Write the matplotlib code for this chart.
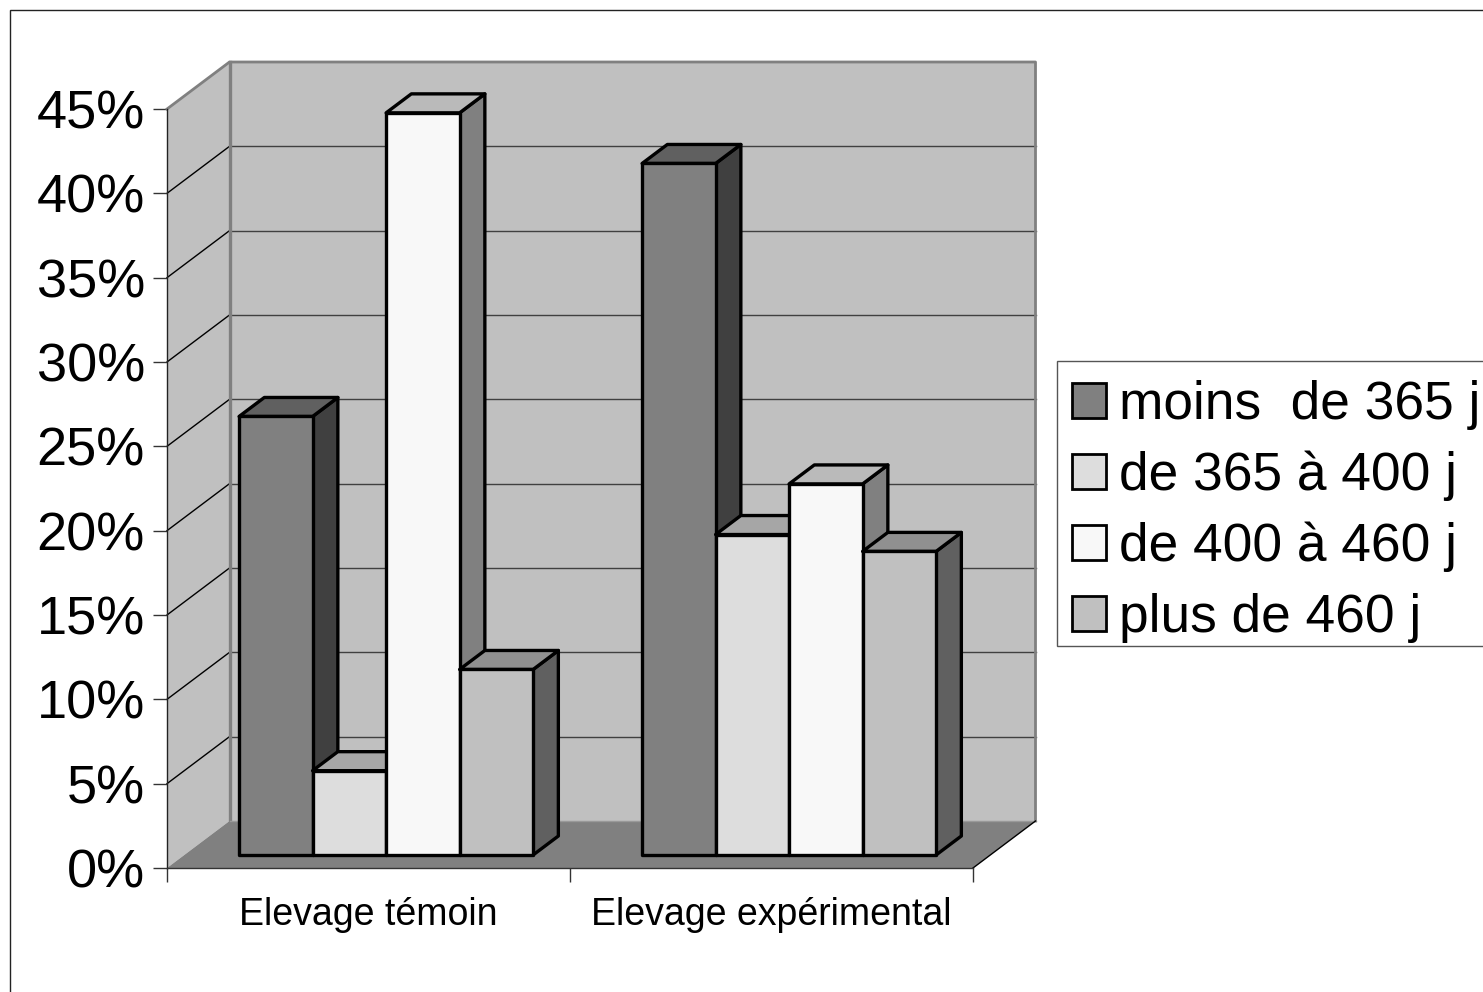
import matplotlib
matplotlib.use("Agg")
import matplotlib.pyplot as plt
from matplotlib.patches import Polygon, Patch, Rectangle

plt.rcParams['font.family'] = ['Liberation Sans', 'DejaVu Sans']

categories = ['Elevage témoin', 'Elevage expérimental']
series = ['moins  de 365 j', 'de 365 à 400 j', 'de 400 à 460 j', 'plus de 460 j']
moins_365 = [26, 41]
de_365_400 = [5, 19]
de_400_460 = [44, 22]
plus_460 = [11, 18]
values = [moins_365, de_365_400, de_400_460, plus_460]

front_colors = ['#808080', '#DDDDDD', '#F8F8F8', '#C0C0C0']
side_colors = ['#404040', '#6F6F6F', '#808080', '#606060']
top_colors = ['#606060', '#A6A6A6', '#BABABA', '#909090']
yticks = list(range(0, 50, 5))

W, H = 1483, 992
fig = plt.figure(figsize=(W / 100, H / 100), dpi=100)
ax = fig.add_axes([167 / W, 1 - 868 / H, 806 / W, 759 / H])
ax.set_xlim(0, 2)
ax.set_ylim(0, 45)
ax.patch.set_visible(False)

# depth of the fake 3d box, in data units
depth_x = 62.5 / 403
depth_y = 47 * 45 / 759
bar_width = 73.5 / 403
bar_start = 54.8 / 403
d_front = 13 / 47
d_back = 32 / 47


def project(x, y, d):
    return (x + d * depth_x, y + d * depth_y)


def quad(pts, fc, ec='black', lw=2.4, z=3):
    ax.add_patch(Polygon(pts, closed=True, facecolor=fc, edgecolor=ec, linewidth=lw,
                         joinstyle='round', clip_on=False, zorder=z))


# walls and floor
quad([project(0, 0, 0), project(0, 0, 1), project(0, 45, 1), project(0, 45, 0)], '#C0C0C0', 'none', 0, 1)
quad([project(0, 0, 1), project(2, 0, 1), project(2, 45, 1), project(0, 45, 1)], '#C0C0C0', 'none', 0, 1)
for t in yticks[1:-1]:
    ax.plot(*zip(project(0, t, 1), project(2, t, 1)), color='#404040', lw=1, clip_on=False, zorder=1.2)
    ax.plot(*zip(project(0, t, 0), project(0, t, 1)), color='black', lw=1, clip_on=False, zorder=1.2)
quad([project(0, 0, 0), project(2, 0, 0), project(2, 0, 1), project(0, 0, 1)], '#808080', 'none', 0, 1.5)
# grey outline of the box
ax.plot(*zip(project(0, 45, 0), project(0, 45, 1), project(2, 45, 1), project(2, 0, 1)),
        color='#808080', lw=2, clip_on=False, zorder=1.6)
ax.plot(*zip(project(0, 0, 1), project(0, 45, 1)), color='#808080', lw=2.4, clip_on=False, zorder=1.6)
ax.plot(*zip(project(0, 0, 1), project(2, 0, 1)), color='#999999', lw=1, clip_on=False, zorder=1.6)
ax.plot(*zip(project(2, 0, 0), project(2, 0, 1)), color='black', lw=1, clip_on=False, zorder=1.6)

# bars, left to right so the later ones hide the side of the earlier ones
z = 3
for c in range(len(categories)):
    for s in range(len(series)):
        v = values[s][c]
        x0 = c + bar_start + s * bar_width
        x1 = x0 + bar_width
        quad([project(x1, 0, d_front), project(x1, 0, d_back), project(x1, v, d_back), project(x1, v, d_front)],
             side_colors[s], z=z)
        quad([project(x0, v, d_front), project(x1, v, d_front), project(x1, v, d_back), project(x0, v, d_back)],
             top_colors[s], z=z)
        quad([project(x0, 0, d_front), project(x1, 0, d_front), project(x1, v, d_front), project(x0, v, d_front)],
             front_colors[s], z=z + 0.1)
        z += 1

for name in ['top', 'right']:
    ax.spines[name].set_visible(False)
ax.spines['left'].set_color('#222222')
ax.spines['bottom'].set_color('#333333')
ax.spines['left'].set_linewidth(1)
ax.spines['bottom'].set_linewidth(1)

ax.set_yticks(yticks)
ax.set_yticklabels([f'{t}%' for t in yticks], fontsize=39)
ax.tick_params(axis='y', length=10, width=1, pad=6, color='#333333')
ax.set_xticks([0, 1, 2])
ax.set_xticklabels([])
ax.tick_params(axis='x', which='major', length=10, width=1, color='#333333')
ax.set_xticks([0.5, 1.5], minor=True)
ax.set_xticklabels(categories, minor=True, fontsize=27)
ax.tick_params(axis='x', which='minor', length=0, pad=21)

# legend frame is drawn apart, the reference has uneven padding
fig.add_artist(Rectangle((1057 / W, 1 - 646 / H), 500 / W, 285 / H, transform=fig.transFigure,
                         facecolor='white', edgecolor='#555555', linewidth=1))
handles = [Patch(facecolor=fc, edgecolor='black', linewidth=2) for fc in front_colors]
leg = fig.legend(handles, series, loc='upper left', bbox_to_anchor=(1072 / W, 1 - 380 / H),
                 borderaxespad=0, fontsize=38.3, frameon=False,
                 handlelength=0.64, handleheight=0.64, handletextpad=0.25,
                 borderpad=0, labelspacing=0.39)

fig.add_artist(Rectangle((9.5 / W, -0.1), 1.2, 1 - 9.5 / H + 0.1, transform=fig.transFigure,
                         facecolor='none', edgecolor='#222222', linewidth=1))

fig.savefig('out.png', dpi=100)
